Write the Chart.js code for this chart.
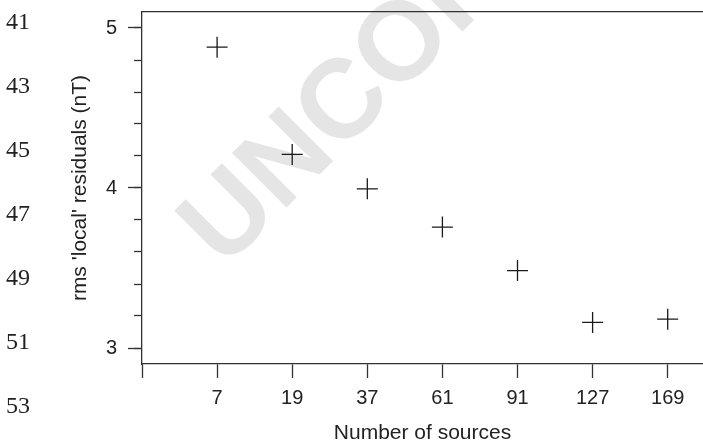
<!DOCTYPE html>
<html lang="en">

<head>
    <meta charset="UTF-8">
    <meta name="viewport" content="width=device-width, initial-scale=1.0">
    <title>rms 'local' residuals</title>
    <style>
        html,
        body {
            padding: 0;
            margin: 0;
            background: #fff;
        }

        .chart-container {
            position: relative;
            width: 703px;
            height: 444px;
        }
    </style>
</head>

<body>
    <div class="chart-container">
        <canvas id="residualsChart"></canvas>
    </div>
</body>

<script src="https://cdn.jsdelivr.net/npm/chart.js@4.4.6/dist/chart.umd.min.js"></script>
<script>
    const sources = ['7', '19', '37', '61', '91', '127', '169'];
    const rmsResiduals = [4.88, 4.21, 3.995, 3.756, 3.484, 3.16, 3.18];
    const yTicks = [3, 4, 5];
    const yMinorTicks = [3, 3.2, 3.4, 3.6, 3.8, 4, 4.2, 4.4, 4.6, 4.8, 5];
    const lineNumbers = ['41', '43', '45', '47', '49', '51', '53'];
    const watermark = 'UNCORRECTED PROOF';

    const axisColor = '#333';
    const textColor = '#222';
    const sansFont = '"Liberation Sans", Arial, sans-serif';

    // page furniture behind the plot: proof watermark and manuscript line numbers
    const pageMarks = {
        id: 'pageMarks',
        beforeDraw(chart) {
            const ctx = chart.ctx;
            ctx.save();
            ctx.translate(224, 270);
            ctx.rotate(-Math.PI / 4);
            ctx.font = 'bold 112px ' + sansFont;
            ctx.fillStyle = '#e5e5e5';
            ctx.textBaseline = 'alphabetic';
            ctx.fillText(watermark, 0, 0);
            ctx.restore();

            ctx.save();
            ctx.font = '24px "Liberation Serif", "Times New Roman", serif';
            ctx.fillStyle = textColor;
            ctx.textBaseline = 'alphabetic';
            lineNumbers.forEach((n, i) => ctx.fillText(n, 6, 29.3 + i * 63.9));
            ctx.restore();
        }
    };

    // fixed axis boxes, no extra label overflow padding
    const fixWidth = (w) => (s) => { s.width = w; s.paddingTop = 0; s.paddingBottom = 0; s.paddingLeft = 0; s.paddingRight = 0; };
    const fixHeight = (h) => (s) => { s.height = h; s.paddingTop = 0; s.paddingBottom = 0; s.paddingLeft = 0; s.paddingRight = 0; };

    const residualsChart = document.getElementById('residualsChart');
    const chart = new Chart(residualsChart, {
        type: 'scatter',
        data: {
            datasets: [{
                label: "rms 'local' residuals",
                data: rmsResiduals.map((v, i) => ({ x: i + 1, y: v })),
                pointStyle: 'cross',
                pointRadius: 10.5,
                pointHoverRadius: 10.5,
                pointBorderWidth: 1.3,
                pointBorderColor: '#1a1a1a',
                showLine: false,
            }]
        },
        options: {
            responsive: true,
            maintainAspectRatio: false,
            animation: false,
            events: [],
            layout: { padding: 0, autoPadding: false },
            scales: {
                x: {
                    type: 'linear',
                    position: 'bottom',
                    min: 0,
                    max: 7.47,
                    afterBuildTicks: (s) => {
                        s.ticks = [0, ...sources.map((_, i) => i + 1)].map(v => ({ value: v }));
                    },
                    afterFit: fixHeight(80),
                    ticks: {
                        callback: (v) => sources[v - 1] ?? '',
                        font: { family: sansFont, size: 20 },
                        color: textColor,
                        padding: 8,
                        autoSkip: false,
                        maxRotation: 0,
                    },
                    grid: { drawOnChartArea: false, tickLength: 14, tickColor: axisColor, tickWidth: 1.3 },
                    border: { color: axisColor, width: 1.3 },
                    title: {
                        display: true,
                        text: 'Number of sources',
                        font: { family: sansFont, size: 21, lineHeight: 1 },
                        color: textColor,
                        padding: { top: 0, bottom: 0 },
                    },
                },
                // top edge of the box only
                x2: {
                    type: 'linear',
                    position: 'top',
                    afterFit: fixHeight(12),
                    ticks: { display: false },
                    grid: { drawOnChartArea: false, drawTicks: false },
                    border: { color: axisColor, width: 1.3 },
                },
                y: {
                    type: 'linear',
                    position: 'left',
                    weight: 1,
                    min: 2.9,
                    max: 5.1,
                    afterBuildTicks: (s) => { s.ticks = yTicks.map(v => ({ value: v })); },
                    afterFit: fixWidth(142),
                    ticks: {
                        font: { family: sansFont, size: 20 },
                        color: textColor,
                        padding: 11,
                    },
                    grid: { drawOnChartArea: false, tickLength: 14, tickColor: axisColor, tickWidth: 1.3 },
                    border: { color: axisColor, width: 1.3 },
                    title: {
                        display: true,
                        text: "rms 'local' residuals (nT)",
                        font: { family: sansFont, size: 21, lineHeight: 1 },
                        color: textColor,
                        padding: { top: 69.5, bottom: 0 },
                    },
                },
                // short minor ticks every 0.2
                yMinor: {
                    type: 'linear',
                    position: 'left',
                    weight: 0,
                    min: 2.9,
                    max: 5.1,
                    afterBuildTicks: (s) => { s.ticks = yMinorTicks.map(v => ({ value: v })); },
                    afterFit: fixWidth(0),
                    ticks: { display: false },
                    grid: { drawOnChartArea: false, tickLength: 8, tickColor: axisColor, tickWidth: 1.3 },
                    border: { display: false },
                },
            },
            plugins: {
                legend: { display: false },
                tooltip: { enabled: false },
            },
        },
        plugins: [pageMarks],
    });
</script>

</html>
